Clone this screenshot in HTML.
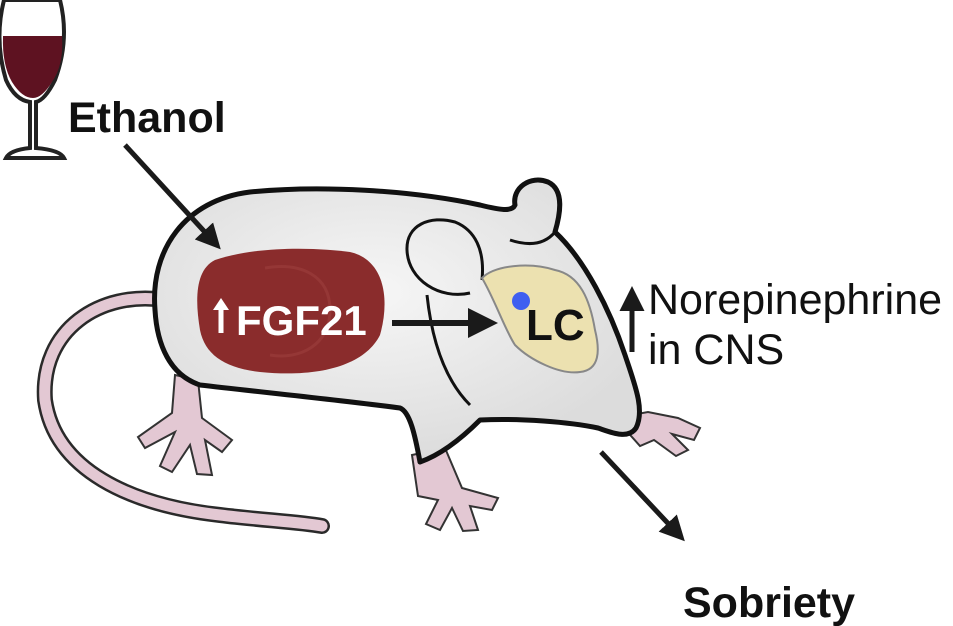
<!DOCTYPE html>
<html><head><style>html,body{margin:0;padding:0;background:#fff}svg{display:block}</style></head>
<body>
<svg width="953" height="626" viewBox="0 0 953 626" xmlns="http://www.w3.org/2000/svg">
<defs>
<marker id="ah" markerWidth="5" markerHeight="5" refX="3" refY="2.5" orient="auto" markerUnits="strokeWidth"><path d="M0,0 L5,2.5 L0,5 z" fill="#1a1a1a"/></marker>
<radialGradient id="bg" cx="0.45" cy="0.4" r="0.6"><stop offset="0" stop-color="#f6f6f6"/><stop offset="1" stop-color="#dcdcdc"/></radialGradient>
</defs>
<!-- wine glass -->
<path d="M4,0 L60,0 Q70,40 55,80 Q45,100 36,102 L36,148 Q60,150 64,158 L6,158 Q10,150 30,148 L30,102 Q15,100 6,80 Q-6,40 4,0z" fill="#fff" stroke="#222" stroke-width="4"/>
<path d="M3,36 L62,36 Q64,65 52,82 Q42,98 33,98 Q22,98 12,82 Q2,65 3,36z" fill="#5e1221"/>
<text x="68" y="132" font-family="Liberation Sans, sans-serif" font-weight="bold" font-size="43" fill="#111">Ethanol</text>
<!-- tail -->
<path d="M165,300 C100,290 40,330 45,400 C55,470 130,505 220,515 C260,520 300,522 322,526" fill="none" stroke="#2a2a2a" stroke-width="16" stroke-linecap="round"/>
<path d="M165,300 C100,290 40,330 45,400 C55,470 130,505 220,515 C260,520 300,522 322,526" fill="none" stroke="#e3c8d3" stroke-width="11" stroke-linecap="round"/>
<!-- paws -->
<g fill="#e3c8d3" stroke="#333" stroke-width="2">
<path d="M175,375 L198,380 L202,418 L232,440 L222,452 L205,440 L212,475 L197,474 L190,445 L172,472 L160,466 L175,432 L145,448 L138,437 L172,413z"/>
<path d="M412,455 L445,448 L462,488 L498,498 L492,510 L470,506 L478,530 L463,531 L452,508 L440,530 L426,524 L438,500 L418,496z"/>
<path d="M615,418 L648,412 L678,418 L700,428 L694,440 L672,434 L688,450 L676,456 L654,440 L640,446z"/>
</g>
<!-- body -->
<path d="M155,310 C150,250 185,200 250,192 C320,185 410,190 480,205 C500,210 512,212 515,205 C512,188 530,175 548,182 C565,190 560,215 555,232 C585,260 610,310 625,355 C635,385 645,410 636,428 C628,440 610,432 598,428 C570,422 520,418 480,420 C460,440 440,455 420,462 C415,435 410,412 400,408 C340,400 260,392 200,385 C170,375 157,345 155,310z" fill="url(#bg)" stroke="#111" stroke-width="5" stroke-linejoin="round"/>
<!-- inner ear -->
<path d="M470,293 C440,300 408,280 407,250 C406,225 430,215 455,222 C475,230 485,250 482,280" fill="none" stroke="#111" stroke-width="3"/>
<path d="M427,295 Q435,370 470,405" fill="none" stroke="#111" stroke-width="3"/>
<path d="M510,240 Q540,250 555,232" fill="none" stroke="#111" stroke-width="3"/>
<!-- liver -->
<path d="M215,260 C260,245 320,248 350,252 C385,260 390,300 380,335 C365,365 320,378 260,372 C225,368 205,355 200,330 C195,300 195,270 215,260z" fill="#8a2c2c"/>
<path d="M265,268 C300,262 330,275 330,310 C330,345 300,360 270,355" fill="none" stroke="#9a3c3a" stroke-width="3" opacity="0.7"/>
<line x1="221" y1="333" x2="221" y2="308" stroke="#fff" stroke-width="5"/>
<path d="M213,310 L221,298 L229,310z" fill="#fff"/>
<text x="236" y="335" font-family="Liberation Sans, sans-serif" font-weight="bold" font-size="42" fill="#fff">FGF21</text>
<!-- arrow FGF21 -> LC -->
<line x1="392" y1="323" x2="486" y2="323" stroke="#1a1a1a" stroke-width="6" marker-end="url(#ah)"/>
<!-- brain -->
<path d="M482,278 C495,265 530,262 555,270 C580,275 590,300 595,330 C600,350 600,370 580,372 C560,375 530,360 515,345 C505,330 495,300 482,278z" fill="#ece1b0" stroke="#888" stroke-width="2"/>
<circle cx="521" cy="301" r="9" fill="#3f5ff0"/>
<text x="526" y="340" font-family="Liberation Sans, sans-serif" font-weight="bold" font-size="44" fill="#111">LC</text>
<!-- norepinephrine -->
<line x1="632" y1="352" x2="632" y2="296" stroke="#1a1a1a" stroke-width="5" marker-end="url(#ah)"/>
<text x="648" y="314" font-family="Liberation Sans, sans-serif" font-size="43" fill="#111">Norepinephrine</text>
<text x="648" y="364" font-family="Liberation Sans, sans-serif" font-size="43" fill="#111">in CNS</text>
<!-- ethanol arrow -->
<line x1="125" y1="145" x2="214" y2="242" stroke="#1a1a1a" stroke-width="5" marker-end="url(#ah)"/>
<!-- sobriety arrow -->
<line x1="601" y1="452" x2="678" y2="534" stroke="#1a1a1a" stroke-width="5" marker-end="url(#ah)"/>
<text x="683" y="617" font-family="Liberation Sans, sans-serif" font-weight="bold" font-size="43" fill="#111">Sobriety</text>
</svg>
</body></html>
